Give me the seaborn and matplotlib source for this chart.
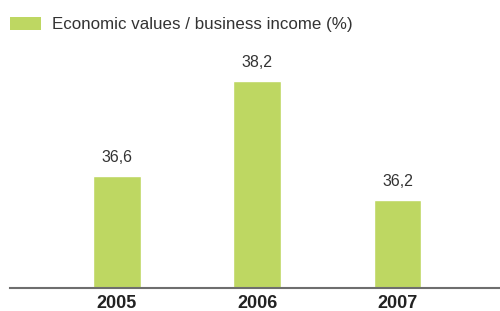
import matplotlib
matplotlib.use("Agg")
import matplotlib.pyplot as plt
import seaborn as sns
import pandas as pd
from matplotlib.patches import Patch

years = ["2005", "2006", "2007"]
values = [36.6, 38.2, 36.2]
series_label = "Economic values / business income (%)"

sns.set_style("white")
plt.rcParams['font.family'] = ['Liberation Sans', 'DejaVu Sans']

df = pd.DataFrame({"year": years, "value": values})
color = "#BED762"

fig = plt.figure(figsize=(5, 3.11), dpi=100)
ax = fig.add_axes([0.02, 23 / 311, 0.98, 288 / 311])
sns.barplot(data=df, x="year", y="value", color=color, width=0.34,
            saturation=1, ax=ax)

ax.set_ylim(34.73, 39.55)
ax.set_xlim(-0.76, 2.73)
ax.set_xlabel("")
ax.set_ylabel("")
ax.set_yticks([])
for s in ["top", "right", "left"]:
    ax.spines[s].set_visible(False)
ax.spines["bottom"].set_color("#6e6e6e")
ax.spines["bottom"].set_linewidth(1.5)
ax.tick_params(axis="x", length=0, pad=5, labelsize=13, labelcolor="#222222")
for t in ax.get_xticklabels():
    t.set_fontweight("bold")

ax.bar_label(ax.containers[0], labels=[f"{v:.1f}".replace(".", ",") for v in values],
             padding=8, fontsize=11.5, color="#333333")

handle = Patch(facecolor=color, edgecolor="none")
fig.legend([handle], [series_label], loc="upper left",
           bbox_to_anchor=(0.02, 0.945), frameon=False, fontsize=12.2,
           handlelength=1.85, handleheight=0.8, handletextpad=0.6,
           borderpad=0, borderaxespad=0, labelcolor="#333333")

fig.savefig("out.png", dpi=100)
